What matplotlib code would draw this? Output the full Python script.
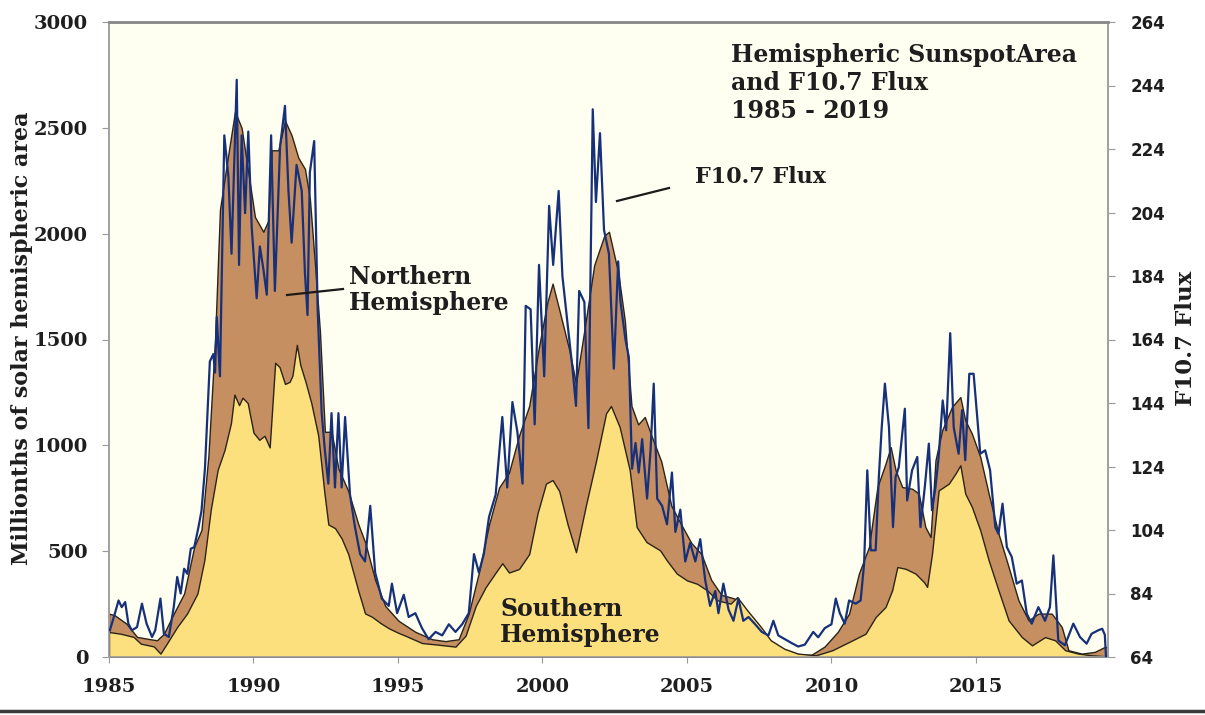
import numpy as np
import matplotlib
matplotlib.use("Agg")
import matplotlib.pyplot as plt
from matplotlib.lines import Line2D

# southern hemisphere sunspot area (millionths of hemisphere)
south_years = [1985.0, 1985.4, 1985.85, 1986.1, 1986.55, 1986.78, 1987.0, 1987.36, 1987.7, 1988.06,
               1988.3, 1988.52, 1988.76, 1989.0, 1989.22, 1989.34, 1989.5, 1989.62, 1989.8, 1990.0,
               1990.2, 1990.38, 1990.56, 1990.75, 1990.9, 1991.09, 1991.25, 1991.35, 1991.5, 1991.62,
               1991.8, 1992.0, 1992.24, 1992.45, 1992.59, 1992.82, 1993.05, 1993.28, 1993.63, 1993.86,
               1994.1, 1994.4, 1994.68, 1995.0, 1995.25, 1995.83, 1996.41, 1996.99, 1997.34, 1997.69,
               1998.03, 1998.38, 1998.61, 1998.84, 1999.19, 1999.54, 1999.83, 2000.12, 2000.35, 2000.58,
               2000.87, 2001.16, 2001.5, 2001.85, 2002.2, 2002.37, 2002.67, 2003.02, 2003.26, 2003.6,
               2004.07, 2004.3, 2004.65, 2005.0, 2005.35, 2005.7, 2006.05, 2006.51, 2006.74, 2007.09,
               2007.56, 2007.9, 2008.37, 2008.84, 2009.46, 2010.03, 2010.61, 2011.18, 2011.53, 2011.87,
               2012.1, 2012.28, 2012.56, 2012.91, 2013.2, 2013.31, 2013.48, 2013.71, 2014.06, 2014.29,
               2014.46, 2014.63, 2014.86, 2015.15, 2015.44, 2015.78, 2016.13, 2016.59, 2016.94, 2017.39,
               2017.74, 2018.09, 2018.54, 2019.0, 2019.55]
south_area = [118, 110, 95, 63, 50, 16, 63, 142, 205, 300,
              458, 695, 884, 979, 1105, 1240, 1190, 1225, 1200, 1060,
              1026, 1045, 990, 1390, 1370, 1290, 1300, 1330, 1475, 1380,
              1300, 1200, 1046, 780, 626, 609, 560, 486, 311, 206,
              190, 160, 136, 115, 101, 66, 58, 49, 101, 241,
              329, 399, 443, 399, 416, 486, 679, 819, 836, 784,
              626, 495, 714, 924, 1151, 1186, 1087, 882, 614, 543,
              504, 457, 394, 362, 346, 315, 268, 252, 283, 220,
              142, 79, 39, 16, 8, 32, 71, 110, 189, 236,
              315, 425, 417, 394, 354, 331, 488, 787, 819, 866,
              906, 772, 709, 598, 457, 315, 173, 94, 55, 94,
              79, 32, 16, 8, 3]

# northern + southern area (top of the stacked brown band)
total_years = [1985.0, 1985.2, 1985.6, 1985.97, 1986.3, 1986.66, 1986.9, 1987.24, 1987.6, 1987.95,
               1988.2, 1988.44, 1988.67, 1988.84, 1989.13, 1989.36, 1989.59, 1989.82, 1990.05, 1990.34,
               1990.51, 1990.63, 1990.86, 1991.09, 1991.32, 1991.55, 1991.78, 1991.95, 1992.13, 1992.3,
               1992.47, 1992.7, 1992.94, 1993.28, 1993.63, 1993.87, 1994.21, 1994.56, 1995.02, 1995.6,
               1996.18, 1996.64, 1997.1, 1997.45, 1997.8, 1998.15, 1998.5, 1998.84, 1999.19, 1999.54,
               1999.88, 2000.17, 2000.35, 2000.58, 2000.93, 2001.16, 2001.5, 2001.79, 2002.14, 2002.3,
               2002.62, 2002.85, 2003.08, 2003.31, 2003.54, 2003.77, 2004.11, 2004.46, 2004.8, 2005.15,
               2005.5, 2005.84, 2006.19, 2006.65, 2007.0, 2007.34, 2007.8, 2008.26, 2008.84, 2009.3,
               2009.76, 2010.22, 2010.61, 2010.95, 2011.3, 2011.59, 2011.87, 2012.05, 2012.22, 2012.45,
               2012.79, 2013.02, 2013.25, 2013.43, 2013.6, 2013.83, 2014.17, 2014.46, 2014.63, 2014.86,
               2015.15, 2015.44, 2015.78, 2016.13, 2016.47, 2016.82, 2017.16, 2017.62, 2017.97, 2018.2,
               2018.66, 2019.11, 2019.45, 2019.55]
total_area = [205, 197, 158, 95, 87, 79, 110, 205, 300, 521,
              600, 950, 1501, 2114, 2376, 2577, 2499, 2289, 2079, 2009,
              2061, 2394, 2394, 2534, 2464, 2359, 2306, 2166, 1851, 1536,
              1064, 1064, 889, 784, 626, 539, 364, 241, 171, 119,
              84, 75, 84, 206, 399, 626, 801, 871, 1046, 1186,
              1466, 1676, 1764, 1641, 1449, 1291, 1589, 1851, 1991, 2009,
              1816, 1589, 1186, 1099, 1134, 1046, 924, 714, 626, 539,
              486, 364, 294, 276, 206, 136, 84, 40, 14, 10,
              49, 119, 205, 394, 520, 803, 913, 992, 882, 803,
              795, 772, 614, 567, 929, 1071, 1181, 1228, 1118, 1055,
              945, 772, 583, 425, 268, 173, 205, 205, 142, 32,
              16, 24, 47, 47]

# F10.7 solar radio flux
flux_years = [1985.03, 1985.2, 1985.33, 1985.44, 1985.56, 1985.67, 1985.79, 1985.97, 1986.14, 1986.3,
              1986.49, 1986.6, 1986.78, 1986.9, 1987.07, 1987.24, 1987.36, 1987.48, 1987.6, 1987.71,
              1987.83, 1987.95, 1988.09, 1988.2, 1988.32, 1988.49, 1988.61, 1988.67, 1988.73, 1988.84,
              1988.99, 1989.13, 1989.24, 1989.42, 1989.5, 1989.59, 1989.71, 1989.82, 1989.94, 1990.11,
              1990.22, 1990.34, 1990.46, 1990.61, 1990.74, 1990.92, 1991.09, 1991.21, 1991.32, 1991.49,
              1991.67, 1991.78, 1991.87, 1991.95, 1992.1, 1992.22, 1992.36, 1992.47, 1992.59, 1992.7,
              1992.82, 1992.94, 1993.05, 1993.17, 1993.34, 1993.51, 1993.69, 1993.86, 1994.04, 1994.21,
              1994.44, 1994.68, 1994.79, 1994.97, 1995.2, 1995.37, 1995.6, 1995.83, 1996.06, 1996.3,
              1996.53, 1996.76, 1996.99, 1997.22, 1997.45, 1997.63, 1997.8, 1997.97, 1998.15, 1998.38,
              1998.61, 1998.78, 1998.96, 1999.13, 1999.31, 1999.42, 1999.59, 1999.73, 1999.88, 2000.06,
              2000.23, 2000.37, 2000.56, 2000.69, 2000.87, 2001.04, 2001.16, 2001.27, 2001.45, 2001.59,
              2001.74, 2001.85, 2001.99, 2002.13, 2002.3, 2002.47, 2002.62, 2002.7, 2002.87, 2002.99,
              2003.1, 2003.22, 2003.33, 2003.45, 2003.62, 2003.74, 2003.85, 2003.97, 2004.14, 2004.31,
              2004.48, 2004.6, 2004.77, 2004.94, 2005.11, 2005.29, 2005.46, 2005.63, 2005.8, 2005.98,
              2006.09, 2006.26, 2006.44, 2006.61, 2006.78, 2006.95, 2007.13, 2007.36, 2007.59, 2007.82,
              2007.99, 2008.16, 2008.39, 2008.62, 2008.85, 2009.08, 2009.37, 2009.54, 2009.77, 2010.0,
              2010.15, 2010.29, 2010.46, 2010.61, 2010.84, 2011.01, 2011.13, 2011.24, 2011.36, 2011.53,
              2011.64, 2011.74, 2011.85, 2011.99, 2012.13, 2012.22, 2012.33, 2012.54, 2012.62, 2012.79,
              2012.97, 2013.08, 2013.23, 2013.37, 2013.48, 2013.6, 2013.71, 2013.85, 2013.97, 2014.11,
              2014.23, 2014.4, 2014.52, 2014.63, 2014.77, 2014.92, 2015.15, 2015.32, 2015.49, 2015.67,
              2015.78, 2015.92, 2016.07, 2016.24, 2016.41, 2016.59, 2016.76, 2016.93, 2017.16, 2017.39,
              2017.56, 2017.68, 2017.85, 2018.08, 2018.37, 2018.6, 2018.83, 2019.0, 2019.23, 2019.37,
              2019.46, 2019.5]
flux = [72.4, 77.6, 81.8, 79.7, 81.3, 74.5, 72.4, 73.4, 80.8, 74.5,
        70.3, 72.4, 82.4, 71.3, 70.3, 79.7, 89.2, 84.0, 91.8, 90.2,
        98.1, 98.6, 104.6, 110.0, 123.3, 157.1, 159.4, 153.6, 171.1, 152.4,
        228.3, 215.5, 191.0, 245.8, 187.5, 228.3, 203.8, 229.5, 199.1, 177.0,
        193.3, 186.3, 178.1, 228.3, 179.3, 224.8, 237.6, 210.8, 194.5, 219.0,
        210.8, 185.1, 171.7, 216.6, 226.5, 173.5, 140.8, 129.1, 118.6, 140.8,
        117.4, 140.8, 117.4, 139.6, 115.1, 105.0, 96.4, 94.1, 111.6, 90.6,
        82.4, 80.1, 87.1, 77.8, 83.6, 76.6, 77.8, 73.1, 69.6, 71.9,
        70.8, 74.3, 71.9, 74.3, 77.8, 96.4, 90.6, 96.4, 108.1, 115.1,
        139.6, 117.4, 144.3, 135.0, 118.6, 174.6, 173.5, 137.3, 187.5, 152.4,
        206.1, 187.5, 210.8, 184.0, 168.8, 154.8, 143.1, 179.3, 175.8, 136.1,
        236.5, 207.3, 229.0, 198.5, 191.0, 154.8, 188.6, 175.8, 164.1, 158.3,
        123.3, 131.4, 122.1, 132.6, 113.9, 129.1, 150.1, 113.9, 111.6, 105.8,
        122.1, 103.4, 110.4, 94.1, 99.9, 94.1, 101.1, 88.3, 80.1, 84.8,
        77.8, 87.1, 78.9, 75.4, 82.4, 75.4, 76.6, 74.3, 71.9, 70.8,
        75.4, 70.8, 69.6, 68.4, 67.3, 67.9, 71.9, 70.2, 73.1, 74.3,
        82.4, 77.8, 74.5, 81.8, 80.8, 81.8, 93.4, 122.8, 97.6, 97.6,
        120.7, 136.4, 150.1, 136.4, 104.9, 120.7, 123.8, 142.2, 113.3, 122.8,
        127.0, 104.9, 117.5, 131.2, 110.2, 117.5, 127.0, 144.8, 135.4, 166.0,
        136.4, 128.0, 141.7, 126.0, 153.2, 153.2, 128.0, 129.1, 122.8, 104.9,
        102.8, 112.3, 98.6, 95.5, 87.1, 88.1, 77.6, 74.5, 79.7, 75.4,
        79.7, 96.0, 69.2, 67.7, 74.5, 70.3, 68.2, 71.3, 72.4, 72.9,
        71.0, 64.0]

year_ticks = [1985, 1990, 1995, 2000, 2005, 2010, 2015]
area_ticks = [0, 500, 1000, 1500, 2000, 2500, 3000]
flux_ticks = [64, 84, 104, 124, 144, 164, 184, 204, 224, 244, 264]

serif = 'DejaVu Serif'
txt_col = '#1e1e1e'

fig = plt.figure(figsize=(12.05, 7.15), dpi=100)
ax = fig.add_axes([109 / 1205, 1 - 657 / 715, (1108 - 109) / 1205, (657 - 22) / 715])
ax.set_facecolor('#fefef1')

ax.fill_between(total_years, 0, total_area, color='#c68f62', edgecolor='#2a2418', linewidth=1.0, zorder=2)
ax.fill_between(south_years, 0, south_area, color='#fde07e', edgecolor='#2a2418', linewidth=1.0, zorder=3)

ax.set_xlim(1985, 2019.57)
ax.set_ylim(0, 3000)
ax.set_xticks(year_ticks)
ax.set_yticks(area_ticks)
ax.set_xticklabels([str(y) for y in year_ticks], fontfamily=serif, fontweight='bold', fontsize=14, color=txt_col)
ax.set_yticklabels([str(v) for v in area_ticks], fontfamily=serif, fontweight='bold', fontsize=14, color=txt_col)
ax.tick_params(axis='x', direction='out', length=4, color='#9a9a9a', pad=11)
ax.tick_params(axis='y', direction='out', length=5, color='#9a9a9a', pad=10)

ax2 = ax.twinx()
ax2.plot(flux_years, flux, color='#17307a', linewidth=1.6, zorder=4)
ax2.set_ylim(64, 264)
ax2.set_yticks(flux_ticks)
ax2.set_yticklabels([str(v) for v in flux_ticks], fontfamily='DejaVu Sans', fontweight='bold', fontsize=12, color=txt_col)
ax2.tick_params(axis='y', direction='out', length=5, color='#9a9a9a', pad=11)

for a in (ax, ax2):
    for side in ('left', 'right', 'bottom'):
        a.spines[side].set_color('#a0a0a0')
        a.spines[side].set_linewidth(1.2)
    a.spines['top'].set_color('#8a8a8a')
    a.spines['top'].set_linewidth(1.8)

fig.text(22 / 1205, 1 - 338 / 715, 'Millionths of solar hemispheric area', rotation=90,
         ha='center', va='center', fontfamily=serif, fontweight='bold', fontsize=16, color=txt_col)
fig.text(1186 / 1205, 1 - 338 / 715, 'F10.7 Flux', rotation=90,
         ha='center', va='center', fontfamily=serif, fontweight='bold', fontsize=16.5, color=txt_col)

fig.text(731 / 1205, 1 - 43 / 715, 'Hemispheric SunspotArea\nand F10.7 Flux\n1985 - 2019',
         ha='left', va='top', fontfamily=serif, fontweight='bold', fontsize=17, color=txt_col, linespacing=1.22)
fig.text(349 / 1205, 1 - 265 / 715, 'Northern\nHemisphere', ha='left', va='top',
         fontfamily=serif, fontweight='bold', fontsize=17, color=txt_col, linespacing=1.12)
fig.text(500 / 1205, 1 - 597 / 715, 'Southern\nHemisphere', ha='left', va='top',
         fontfamily=serif, fontweight='bold', fontsize=17, color=txt_col, linespacing=1.12)
fig.text(695 / 1205, 1 - 166 / 715, 'F10.7 Flux', ha='left', va='top',
         fontfamily=serif, fontweight='bold', fontsize=16, color=txt_col)

# leader lines
fig.add_artist(Line2D([287 / 1205, 343 / 1205], [1 - 295 / 715, 1 - 289 / 715], color='#1a1a1a', lw=1.6))
fig.add_artist(Line2D([617 / 1205, 669 / 1205], [1 - 201 / 715, 1 - 188 / 715], color='#1a1a1a', lw=1.6))
# frame line at bottom of figure
fig.add_artist(Line2D([0, 1], [1 - 711 / 715, 1 - 711 / 715], color='#3a3a3a', lw=2.5))

fig.savefig('out.png', dpi=100, facecolor='white')
